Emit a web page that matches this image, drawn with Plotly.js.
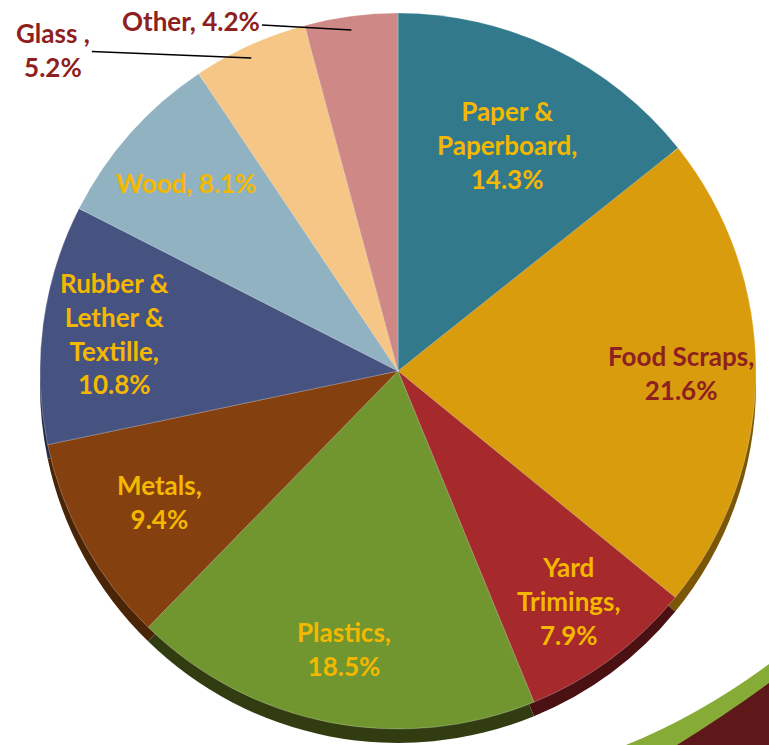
<!DOCTYPE html>
<html>
<head>
<meta charset="utf-8">
<script src="https://cdn.plot.ly/plotly-3.0.1.min.js"></script>
<style>html,body{margin:0;padding:0;background:#fff;}#chart{width:769px;height:745px;}</style>
</head>
<body>
<div id="chart"></div>
<script>
// ---- data ----
const categories = ["Paper &<br>Paperboard", "Food Scraps", "Yard<br>Trimings", "Plastics", "Metals",
                    "Rubber &<br>Lether &<br>Textille", "Wood", "Glass ", "Other"];
const values = [14.3, 21.6, 7.9, 18.5, 9.4, 10.8, 8.1, 5.2, 4.2];

// ---- styles ----
const sliceColors = ["#32798C", "#D89C0C", "#A6292B", "#71962F", "#854010", "#46527F", "#91B3C1", "#F5C686", "#CE8987"];
const rimColors   = ["#1A3F4A", "#7A5606", "#4A1012", "#313D10", "#4A2406", "#252C46", "#5E7A86", "#B88E55", "#8E5A58"];
const W = 769, H = 745;
const cx = 398, cy = 371, R = 358;
const gold = "#F4B800", darkRed = "#8E2020";
const textColors = [gold, darkRed, gold, gold, gold, gold, gold, darkRed, darkRed];
const valueSep = ["<br>", "<br>", "<br>", "<br>", "<br>", "<br>", " ", "<br>", " "];
const labelFactor = [0.70, 0.79, 0.80, 0.79, 0.76, 0.80, 0.79, 0, 0];
const FONT = "Lato, 'Open Sans', sans-serif";

function px2paper(x, y) { return [x / W, (H - y) / H]; }
const dom = (dy) => ({
  x: [(cx - R) / W, (cx + R) / W],
  y: [(H - (cy + dy) - R) / H, (H - (cy + dy) + R) / H]
});

const common = {
  type: "pie", values: values, labels: categories, sort: false,
  direction: "clockwise", rotation: 0, textinfo: "none", hoverinfo: "label+value", showlegend: false
};

const rim = Object.assign({}, common, {
  domain: dom(14), marker: { colors: rimColors, line: { width: 0 } }, hoverinfo: "none"
});
const main = Object.assign({}, common, {
  domain: dom(0), marker: { colors: sliceColors, line: { width: 1, color: "rgba(255,255,255,0.25)" } }
});

// label annotations computed from the data (mid-angle of each slice)
const total = values.reduce((a, b) => a + b, 0);
let cum = 0;
const annotations = [];
values.forEach((v, i) => {
  const mid = (cum + v / 2) / total * 2 * Math.PI;
  cum += v;
  const text = categories[i] + "," + valueSep[i] + v.toFixed(1) + "%";
  const font = { family: FONT, size: 26, color: textColors[i], weight: "bold" };
  if (labelFactor[i] > 0) {
    const [x, y] = px2paper(cx + labelFactor[i] * R * Math.sin(mid), cy - labelFactor[i] * R * Math.cos(mid));
    annotations.push({ x, y, xref: "paper", yref: "paper", text: "<b>" + text + "</b>", showarrow: false,
                       font, align: "center", xanchor: "center", yanchor: "middle" });
  } else {
    const ex = cx + (R - 4) * Math.sin(mid), ey = cy - (R - 14) * Math.cos(mid);
    const [x, y] = px2paper(ex, ey);
    const off = i === 7 ? { ax: -198, ay: -8 } : { ax: -160, ay: -9 };
    annotations.push({ x, y, xref: "paper", yref: "paper", text: "<b>" + text + "</b>", showarrow: true,
                       arrowhead: 0, arrowwidth: 1.5, arrowcolor: "#000", ax: off.ax, ay: off.ay,
                       standoff: 0, font, align: "center" });
  }
});

// decorative swoosh at the bottom-right corner
function pathPx(pts) {
  return pts.map((p) => {
    if (typeof p === "string") return p;
    const [x, y] = px2paper(p[0], p[1]);
    return x.toFixed(4) + "," + y.toFixed(4);
  }).join(" ");
}
const shapes = [
  { type: "path", xref: "paper", yref: "paper", layer: "below", line: { width: 0 }, fillcolor: "#86AC37",
    path: "M " + pathPx([[626, 745], "Q", [700, 715], [769, 664], "L", [769, 745]]) + " Z" },
  { type: "path", xref: "paper", yref: "paper", layer: "below", line: { width: 0 }, fillcolor: "#5F181A",
    path: "M " + pathPx([[677, 745], "Q", [725, 715], [769, 683], "L", [769, 745]]) + " Z" }
];

const layout = {
  width: W, height: H, margin: { l: 0, r: 0, t: 0, b: 0 },
  paper_bgcolor: "#ffffff", plot_bgcolor: "#ffffff",
  font: { family: FONT }, annotations, shapes, showlegend: false
};

Plotly.newPlot("chart", [rim, main], layout, { displayModeBar: false, staticPlot: true });
</script>
</body>
</html>
